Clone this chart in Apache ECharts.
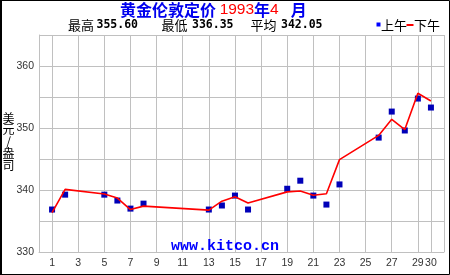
<!DOCTYPE html>
<html>
<head>
<meta charset="utf-8">
<script src="https://cdn.jsdelivr.net/npm/echarts@6/dist/echarts.min.js"></script>
<style>
html,body{margin:0;padding:0;background:#fff;}
#c{width:450px;height:275px;}
</style>
</head>
<body>
<div id="c"></div>
<script>
// Trading days of April 1993
var days = [1, 2, 5, 6, 7, 8, 13, 14, 15, 16, 19, 20, 21, 22, 23, 26, 27, 28, 29, 30];
// AM fix (上午)
var amValues = [336.85, 339.25, 339.25, 338.30, 337.00, 337.80, 336.85, 337.50, 339.10, 336.85,
                340.20, 341.50, 339.10, 337.65, 340.90, 348.45, 352.65, 349.60, 354.75, 353.30];
// PM fix (下午)
var pmValues = [336.35, 340.10, 339.35, 338.70, 336.85, 337.40, 336.75, 338.20, 338.90, 337.90,
                339.70, 339.85, 339.15, 339.40, 344.90, 348.80, 351.40, 349.75, 355.60, 354.35];
// x tick labels and grid positions
var xLabels = [1, 3, 5, 7, 9, 11, 13, 15, 17, 19, 21, 23, 25, 27, 29, 30];
var xGrid = [0, 1, 3, 5, 7, 9, 11, 13, 15, 17, 19, 21, 23, 25, 27, 29, 30, 31];
var yLabels = [330, 340, 350, 360];
var statNames = ["最高", "最低", "平均"];
var statValues = ["355.60", "336.35", "342.05"];
var yNameChars = ["美", "元", "/", "盎", "司"];

var amData = days.map(function (d, i) { return [d, amValues[i]]; });
var pmData = days.map(function (d, i) { return [d, pmValues[i]]; });

var chart = echarts.init(document.getElementById('c'), null, {renderer: 'canvas'});
var cn = '"Noto Sans CJK SC", sans-serif';
var statLabelX = [68, 161.5, 250.5];
var statNumX = [96.5, 192, 281];
var yNameY = [118, 129.5, 141, 153.5, 165];

var graphics = [
  {type: 'rect', shape: {x: 0.5, y: 0.5, width: 449, height: 274}, style: {fill: 'none', stroke: '#000', lineWidth: 1}, silent: true, z: 100},
  {type: 'line', shape: {x1: 1, y1: 0, x2: 1, y2: 275}, style: {stroke: '#000', lineWidth: 2}, silent: true, z: 100},
  {
    type: 'text', x: 120, y: 10,
    style: {
      text: '{c|黄金伦敦定价 }{n|1993}{c|年}{n|4}{s| }{c|月}',
      align: 'left', verticalAlign: 'middle',
      rich: {
        c: {fontFamily: cn, fontSize: 16, fontWeight: 'bold', fill: '#0000ee'},
        n: {fontFamily: '"Liberation Sans", sans-serif', fontSize: 15.5, fill: '#ff0000'},
        s: {fontSize: 16, width: 12}
      }
    }
  },
  {type: 'rect', shape: {x: 376.5, y: 22.5, width: 4, height: 4}, style: {fill: '#0000ff'}},
  {type: 'text', x: 381, y: 25.5, style: {text: '上午', fontFamily: cn, fontSize: 13, fill: '#000', verticalAlign: 'middle'}},
  {type: 'rect', shape: {x: 406.5, y: 24, width: 7, height: 2}, style: {fill: '#ff0000'}},
  {type: 'text', x: 414, y: 25.5, style: {text: '下午', fontFamily: cn, fontSize: 13, fill: '#000', verticalAlign: 'middle'}},
  {
    type: 'text', x: 225, y: 246,
    style: {
      text: 'www.kitco.cn', align: 'center', verticalAlign: 'middle',
      fontFamily: '"Liberation Mono", monospace', fontSize: 15, fontWeight: 'bold', fill: '#0000ff'
    }, z: 50
  }
];
yNameChars.forEach(function (ch, i) {
  graphics.push({
    type: 'text', x: 8.5, y: yNameY[i],
    style: {text: ch, align: 'center', verticalAlign: 'middle', fontFamily: cn, fontSize: 12, fill: '#000'}
  });
});
statNames.forEach(function (s, i) {
  graphics.push({
    type: 'text', x: statLabelX[i], y: 25.5,
    style: {text: s, verticalAlign: 'middle', fontFamily: cn, fontSize: 13, fill: '#000'}
  });
  graphics.push({
    type: 'text', x: statNumX[i], y: 25.5,
    style: {text: statValues[i], verticalAlign: 'middle', fontFamily: '"DejaVu Sans Mono", monospace', fontSize: 11.5, fontWeight: 'bold', fill: '#000'}
  });
});

chart.setOption({
  animation: false,
  backgroundColor: '#fff',
  grid: {left: 39, top: 35, width: 405, height: 217, containLabel: false},
  xAxis: {
    type: 'value', min: 0, max: 31,
    axisLine: {show: true, lineStyle: {color: '#c0c0c0', width: 1}},
    axisTick: {show: false, customValues: xGrid},
    axisLabel: {customValues: xLabels, color: '#333', fontSize: 10.5, fontFamily: '"Liberation Sans", sans-serif', margin: 6},
    splitLine: {show: true, lineStyle: {color: '#c0c0c0', width: 1}}
  },
  yAxis: {
    type: 'value', min: 330, max: 365, interval: 5,
    axisLine: {show: true, lineStyle: {color: '#c0c0c0', width: 1}},
    axisTick: {show: false},
    axisLabel: {
      color: '#333', fontSize: 10.5, fontFamily: '"Liberation Sans", sans-serif', margin: 5,
      formatter: function (v) { return yLabels.indexOf(v) >= 0 ? String(v) : ''; }
    },
    splitLine: {show: true, lineStyle: {color: '#c0c0c0', width: 1}}
  },
  series: [
    {
      name: '上午', type: 'scatter', data: amData, symbol: 'rect', symbolSize: 6,
      itemStyle: {color: '#0000b8', opacity: 1}, z: 2
    },
    {
      name: '下午', type: 'line', data: pmData, symbol: 'none',
      lineStyle: {color: '#ff0000', width: 1.6}, z: 3
    }
  ],
  graphic: graphics
});
</script>
</body>
</html>
